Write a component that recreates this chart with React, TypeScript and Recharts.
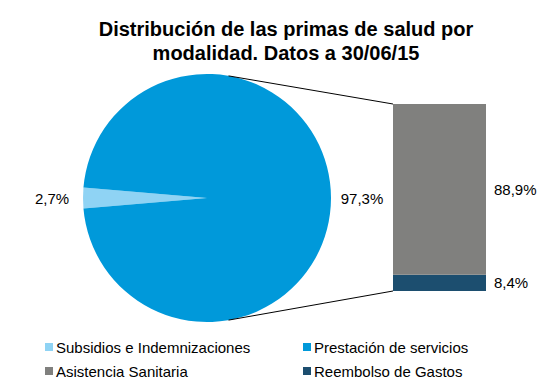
import React from 'react';
import { PieChart, Pie, Cell, BarChart, Bar, XAxis, YAxis, LabelList } from 'recharts';

// Pie: main split of health premiums
const pieNames = ['Subsidios e Indemnizaciones', 'Prestación de servicios'];
const pieValues = [2.7, 97.3];
const pieColors = ['#8FD3F4', '#0099DA'];

// Bar: breakdown of "Prestación de servicios" (bottom to top)
const barNames = ['Reembolso de Gastos', 'Asistencia Sanitaria'];
const barKeys = ['reembolso', 'asistencia'];
const barValues = [8.4, 88.9];
const barColors = ['#1C4E6F', '#80807E'];

const legendOrder = [
  { name: 'Subsidios e Indemnizaciones', color: pieColors[0] },
  { name: 'Prestación de servicios', color: pieColors[1] },
  { name: 'Asistencia Sanitaria', color: barColors[1] },
  { name: 'Reembolso de Gastos', color: barColors[0] },
];

const FONT = '"Liberation Sans", Arial, sans-serif';
const fmt = (v: number) => v.toFixed(1).replace('.', ',') + '%';

// layout
const CX = 207;
const CY = 198;
const R = 124;
const BAR_LEFT = 393;
const BAR_TOP = 104;
const BAR_W = 93;
const BAR_H = 187;

const pieData = pieNames.map((name, i) => ({ name, value: pieValues[i] }));
const barRow: Record<string, any> = { name: 'Prestación' };
barKeys.forEach((k, i) => (barRow[k] = barValues[i]));
const barTotal = barValues.reduce((a, b) => a + b, 0);

const startAngle = 180 - (pieValues[0] / 100) * 360 / 2;

const renderPieLabel = (props: any) => {
  const { cx, cy, midAngle, outerRadius, value } = props;
  const rad = (Math.PI / 180) * midAngle;
  const r = outerRadius + 31;
  const x = cx + r * Math.cos(rad);
  const y = cy - r * Math.sin(rad);
  return (
    <text x={x} y={y} textAnchor="middle" dominantBaseline="central" fill="#000" fontSize={15} fontFamily={FONT}>
      {fmt(value)}
    </text>
  );
};

export default function App() {
  const a = (80 * Math.PI) / 180;
  const topPt = { x: CX + R * Math.cos(a), y: CY - R * Math.sin(a) };
  const botPt = { x: CX + R * Math.cos(a), y: CY + R * Math.sin(a) };

  return (
    <div style={{ position: 'absolute', left: 0, top: 0, width: 556, height: 381, background: '#fff', fontFamily: FONT }}>
      <div style={{ position: 'absolute', left: 0, top: 0 }}>
        <PieChart width={556} height={381} margin={{ top: 0, right: 0, bottom: 0, left: 0 }}>
          <Pie
            data={pieData}
            dataKey="value"
            cx={CX}
            cy={CY}
            outerRadius={R}
            startAngle={startAngle}
            endAngle={startAngle + 360}
            stroke="none"
            label={renderPieLabel}
            labelLine={false}
            isAnimationActive={false}
          >
            {pieData.map((d, i) => (
              <Cell key={d.name} fill={pieColors[i]} />
            ))}
          </Pie>
        </PieChart>
      </div>

      <svg style={{ position: 'absolute', left: 0, top: 0 }} width={556} height={381}>
        <line x1={topPt.x} y1={topPt.y} x2={BAR_LEFT} y2={BAR_TOP} stroke="#000" strokeWidth={1} />
        <line x1={botPt.x} y1={botPt.y} x2={BAR_LEFT} y2={BAR_TOP + BAR_H} stroke="#000" strokeWidth={1} />
      </svg>

      <div style={{ position: 'absolute', left: BAR_LEFT, top: BAR_TOP }}>
        <BarChart
          width={BAR_W + 70}
          height={BAR_H}
          data={[barRow]}
          margin={{ top: 0, right: 70, bottom: 0, left: 0 }}
          barCategoryGap={0}
        >
          <XAxis dataKey="name" hide />
          <YAxis hide domain={[0, barTotal]} />
          {barKeys.map((k, i) => (
            <Bar key={k} dataKey={k} name={barNames[i]} stackId="s" fill={barColors[i]} isAnimationActive={false}>
              <LabelList
                dataKey={k}
                position="right"
                offset={8}
                fill="#000"
                fontSize={15}
                fontFamily={FONT}
                formatter={(v: any) => fmt(Number(v))}
              />
            </Bar>
          ))}
        </BarChart>
      </div>

      <div
        style={{
          position: 'absolute',
          left: 0,
          top: 17,
          width: 572,
          textAlign: 'center',
          fontSize: 20,
          fontWeight: 'bold',
          lineHeight: '24px',
          color: '#000',
        }}
      >
        Distribución de las primas de salud por
        <br />
        modalidad. Datos a 30/06/15
      </div>

      {legendOrder.map((item, i) => (
        <div
          key={item.name}
          style={{
            position: 'absolute',
            left: i % 2 === 0 ? 45 : 303,
            top: i < 2 ? 338 : 362,
            height: 18,
            display: 'flex',
            alignItems: 'center',
            fontSize: 15,
            color: '#000',
            whiteSpace: 'nowrap',
          }}
        >
          <span style={{ display: 'inline-block', width: 8, height: 8, background: item.color, marginRight: 3 }} />
          {item.name}
        </div>
      ))}
    </div>
  );
}
